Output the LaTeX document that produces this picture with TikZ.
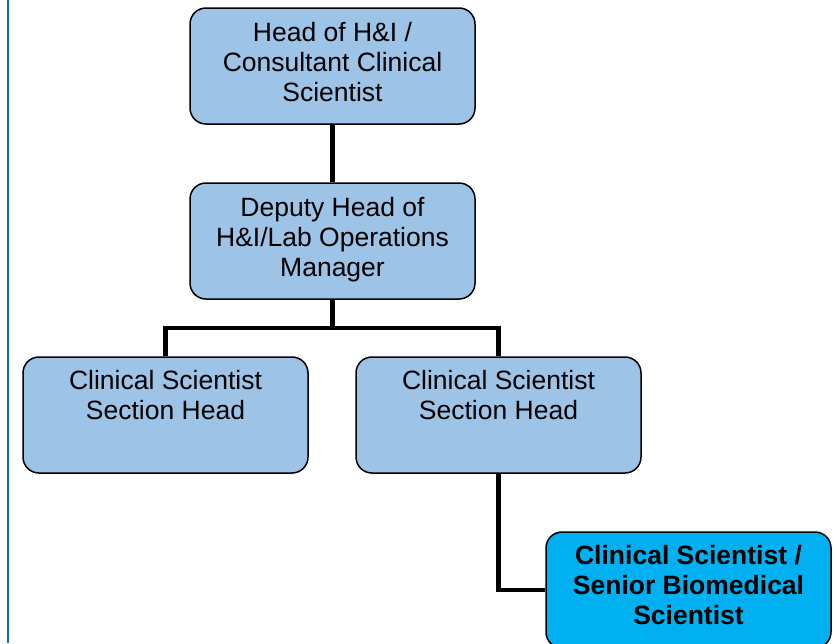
\documentclass[tikz,border=0pt]{standalone}
\usepackage{fontspec}
\setmainfont{Liberation Sans}
\definecolor{boxblue}{RGB}{157,195,230}
\definecolor{brightblue}{RGB}{0,176,240}
\definecolor{edgeblue}{RGB}{0,112,192}
\begin{document}
\begin{tikzpicture}[x=1pt,y=-1pt,
  role/.style={draw=black,line width=1.5pt,rounded corners=16pt,fill=boxblue,
    minimum width=285pt,minimum height=116pt,inner sep=0pt},
  lead/.style={role,fill=brightblue},
  label/.style={anchor=center,align=center,font=\fontsize{26.5}{30}\selectfont},
  boldlabel/.style={label,font=\fontsize{26.5}{30}\selectfont\bfseries},
  link/.style={line width=4.5pt,draw=black}]
\useasboundingbox (0,0) rectangle (837,643);
\clip (0,0) rectangle (837,643);
\draw[edgeblue,line width=2pt] (7.5,0) -- (7.5,643);
\node[role] (head) at (332.5,66) {};
\node[label] (headtext) at (332.5,62) {Head of H\&I /\\Consultant Clinical\\Scientist};
\node[role] (deputy) at (332.5,241) {};
\node[label] (deputytext) at (332.5,240) {Deputy Head of\\H\&I/Lab Operations\\Manager};
\node[role] (left) at (165.5,415) {};
\node[label] (lefttext) at (165.5,395) {Clinical Scientist\\Section Head};
\node[role] (right) at (498.5,415) {};
\node[label] (righttext) at (498.5,395) {Clinical Scientist\\Section Head};
\node[lead] (senior) at (688.5,590) {};
\node[boldlabel] (seniortext) at (688.5,585) {Clinical Scientist /\\Senior Biomedical\\Scientist};
\coordinate (split) at (332.5,328);
\draw[link] (head) -- (deputy);
\draw[link] (deputy.south) -- (split);
\draw[link] (left.north) |- (split) -| (right.north);
\draw[link] (right.south) |- (senior.west);
\end{tikzpicture}
\end{document}
